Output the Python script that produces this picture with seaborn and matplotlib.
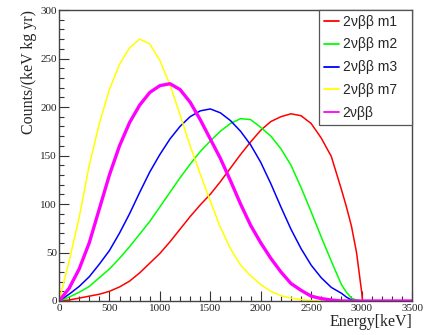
import numpy as np
import pandas as pd
import matplotlib
matplotlib.use("Agg")
import matplotlib.pyplot as plt
from matplotlib.ticker import MultipleLocator
import seaborn as sns

# energy grid (keV) and counts/(keV kg yr)
energy = [0, 100, 200, 300, 400, 500, 600, 700, 800, 900, 1000, 1100, 1200,
          1300, 1400, 1500, 1600, 1700, 1800, 1900, 2000, 2100, 2200, 2300,
          2400, 2500, 2600, 2700, 2800, 2850, 2900, 2950, 3000, 3010, 3100, 3500]

m1 = [0, 1, 3, 5, 7, 10, 14.5, 20.5, 29, 39, 49, 61, 74, 87, 99, 110, 123,
      137, 151, 164, 176, 185, 190, 193, 191, 183, 168, 149, 115, 97, 77, 50,
      10, 0, 0, 0]
m2 = [0, 4, 9, 15, 24, 33, 44, 56, 69, 82, 97, 112, 127, 141, 154, 165, 175,
      183, 188, 187, 179, 170, 157, 140, 117, 92, 66, 41, 17, 9, 3, 1, 0, 0, 0, 0]
m3 = [0, 7, 15, 25, 38, 52, 70, 90, 112, 133, 151, 167, 180, 190, 196, 198,
      194, 186, 175, 161, 143, 121, 97, 74, 54, 37, 24, 14, 8, 4, 1, 0, 0, 0,
      0, 0]
m7 = [0, 41, 86, 140, 183, 218, 244, 261, 270, 265, 248, 223, 192, 160, 131,
      103, 76, 54, 37, 26, 17, 10, 5.5, 3, 1.5, 0.5, 0, 0, 0, 0, 0, 0, 0, 0,
      0, 0]
bb2n = [0, 13, 33, 60, 95, 130, 160, 184, 202, 215, 222, 224, 218, 205, 187,
        167, 147, 124, 100, 78, 60, 44, 30, 18, 11, 5, 2.5, 1, 0, 0, 0, 0, 0,
        0, 0, 0]

series = ["2νββ m1", "2νββ m2", "2νββ m3", "2νββ m7", "2νββ"]
values = [m1, m2, m3, m7, bb2n]
colors = ["#ff0000", "#00ff00", "#0000ff", "#ffff00", "#ff00ff"]
widths = [1.1, 1.1, 1.1, 1.1, 2.4]

df = pd.concat([pd.DataFrame({"energy": energy, "counts": v, "mode": s})
                for s, v in zip(series, values)], ignore_index=True)

sns.set_style("ticks")
plt.rcParams["font.family"] = ["Liberation Serif", "DejaVu Serif"]

fig = plt.figure(figsize=(4.32, 3.35), dpi=100)
ax = fig.add_axes([59 / 432, 34 / 335, 353 / 432, 291 / 335])

for s, c, lw in zip(series, colors, widths):
    sns.lineplot(data=df[df["mode"] == s], x="energy", y="counts", color=c,
                 linewidth=lw, label=s, ax=ax)

ax.set_xlim(0, 3500)
ax.set_ylim(0, 300)
ax.xaxis.set_major_locator(MultipleLocator(500))
ax.xaxis.set_minor_locator(MultipleLocator(100))
ax.yaxis.set_major_locator(MultipleLocator(50))
ax.yaxis.set_minor_locator(MultipleLocator(10))
ax.tick_params(which="both", direction="in", labelsize=8, colors="#333333",
               labelcolor="#222222")
ax.tick_params(which="major", length=7, width=0.8)
ax.tick_params(which="minor", length=3.5, width=0.8)
ax.tick_params(axis="x", pad=2)
ax.tick_params(axis="y", pad=1.5)
for sp in ax.spines.values():
    sp.set_color("#444444")
    sp.set_linewidth(1.0)

ax.set_xlabel("Energy[keV]", fontsize=11.5, loc="right", labelpad=1)
ax.set_ylabel("Counts/(keV kg yr)", fontsize=11.5, loc="top")
ax.yaxis.set_label_coords(-0.062, 1.0)

leg = ax.legend(loc="upper left", bbox_to_anchor=(260 / 353, 0, 93 / 353, 1.0),
                mode="expand", borderaxespad=0,
                fancybox=False, framealpha=1, edgecolor="#555555",
                prop={"family": ["Liberation Sans", "DejaVu Sans"], "size": 10},
                handlelength=1.08, handletextpad=0.29, labelspacing=0.64,
                borderpad=0.33)
leg.get_frame().set_linewidth(0.9)
for h in leg.get_lines():
    h.set_linewidth(1.3)

fig.savefig("out.png", dpi=100)
